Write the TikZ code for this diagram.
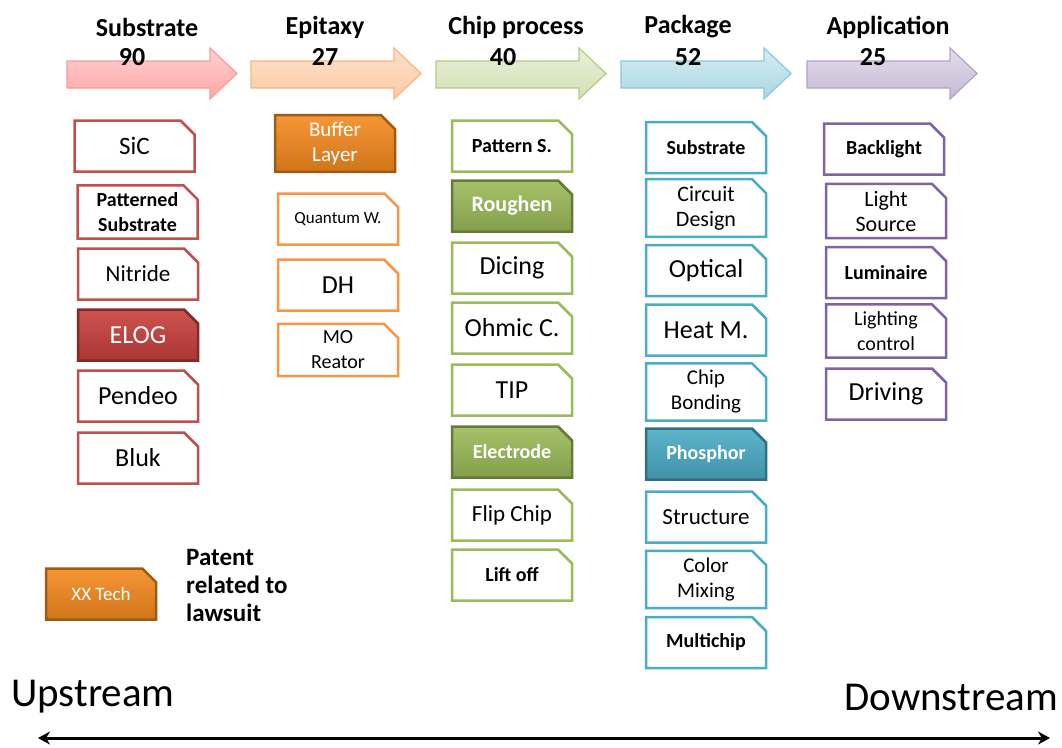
\documentclass[tikz,border=0pt]{standalone}
\usepackage{fontspec}
\setmainfont{Carlito}
\usetikzlibrary{shapes.misc,arrows.meta}

% column colours
\definecolor{subred}{HTML}{C0504D}
\definecolor{elogred}{HTML}{C8403D}
\definecolor{epiorange}{HTML}{F79646}
\definecolor{buforange}{HTML}{F58A1F}
\definecolor{chipgreen}{HTML}{9BBB59}
\definecolor{pkgblue}{HTML}{4BACC6}
\definecolor{apppurple}{HTML}{8064A2}

\begin{document}
\begin{tikzpicture}[x=1pt, y=-1pt,
  every node/.style={inner sep=0pt},
  txt/.style={font=\fontsize{#1}{25}\selectfont},
  btxt/.style={font=\fontsize{#1}{25}\selectfont\bfseries},
  title/.style={font=\fontsize{26}{28}\selectfont\bfseries},
  stagebox/.style={chamfered rectangle, chamfered rectangle corners=north east,
    chamfered rectangle xsep=7pt, chamfered rectangle ysep=7pt,
    minimum width=120pt, minimum height=51pt, line width=2.5pt,
    fill=white, align=center},
  subbox/.style={stagebox, draw=subred},
  epibox/.style={stagebox, draw=epiorange},
  chipbox/.style={stagebox, draw=chipgreen},
  pkgbox/.style={stagebox, draw=pkgblue},
  appbox/.style={stagebox, draw=apppurple},
  hotbox/.style={stagebox, text=white, draw=#1!65!black,
    top color=#1!90!white, bottom color=#1!85!black},
  stagearrow/.style={line width=1.2pt},
]
\useasboundingbox (0,0) rectangle (1062,747);

% Stage arrows
\shade[stagearrow, draw=red!40, top color=red!18, bottom color=red!35]
  (67,61) -- (210,61) -- (210,48) -- (237,73.5) -- (210,99) -- (210,88) -- (67,88) -- cycle;
\shade[stagearrow, draw=epiorange!70, top color=epiorange!28, bottom color=epiorange!50]
  (251,61) -- (394,61) -- (394,48) -- (421,73.5) -- (394,99) -- (394,88) -- (251,88) -- cycle;
\shade[stagearrow, draw=chipgreen!75, top color=chipgreen!22, bottom color=chipgreen!45]
  (436,61) -- (579,61) -- (579,48) -- (606,73.5) -- (579,99) -- (579,88) -- (436,88) -- cycle;
\shade[stagearrow, draw=pkgblue!65, top color=pkgblue!22, bottom color=pkgblue!48]
  (621,61) -- (764,61) -- (764,48) -- (791,73.5) -- (764,99) -- (764,88) -- (621,88) -- cycle;
\shade[stagearrow, draw=apppurple!60, top color=apppurple!22, bottom color=apppurple!45]
  (807,61) -- (950,61) -- (950,48) -- (977,73.5) -- (950,99) -- (950,88) -- (807,88) -- cycle;

% Stage titles and patent counts
\node[title] (tsub)  at (147,27) {Substrate};
\node[title] (tepi)  at (325,27) {Epitaxy};
\node[title] (tchip) at (516,27) {Chip process};
\node[title] (tpkg)  at (688,27) {Package};
\node[title] (tapp)  at (888,27) {Application};
\node[title] (nsub)  at (132,57) {90};
\node[title] (nepi)  at (325,57) {27};
\node[title] (nchip) at (503,57) {40};
\node[title] (npkg)  at (688,57) {52};
\node[title] (napp)  at (873,57) {25};

% Substrate
\node[subbox, txt=25]  (sic)   at (134.5,146) {SiC};
\node[subbox, btxt=20] (pss)   at (137.5,212) {Patterned\\Substrate};
\node[subbox, txt=23]  (nitr)  at (138,274) {Nitride};
\node[hotbox=elogred, txt=26] (elog) at (138,335) {ELOG};
\node[subbox, txt=26]  (pend)  at (138,396) {Pendeo};
\node[subbox, txt=26]  (bluk)  at (138,458) {Bluk};

% Epitaxy
\node[hotbox=buforange, txt=21] (buff) at (335,143.5) {Buffer\\Layer};
\node[epibox, txt=17]  (qw)    at (338,219) {Quantum W.};
\node[epibox, txt=26]  (dh)    at (338,285) {DH};
\node[epibox, txt=20]  (mo)    at (338,350) {MO\\Reator};

% Chip process
\node[chipbox, btxt=20] (pats) at (512,146) {Pattern S.};
\node[hotbox=chipgreen, btxt=22] (rough) at (512,206) {Roughen};
\node[chipbox, txt=26]  (dice) at (512,268) {Dicing};
\node[chipbox, txt=26]  (ohm)  at (512,328) {Ohmic C.};
\node[chipbox, txt=26]  (tip)  at (512,390) {TIP};
\node[hotbox=chipgreen, btxt=20] (elec) at (512,452) {Electrode};
\node[chipbox, txt=23]  (flip) at (512,515) {Flip Chip};
\node[chipbox, btxt=20] (lift) at (512,575) {Lift off};

% Package
\node[pkgbox, btxt=20] (psub)  at (706,147.5) {Substrate};
\node[pkgbox, txt=22]  (circ)  at (706,208) {Circuit\\Design};
\node[pkgbox, txt=26]  (opt)   at (706,270.5) {Optical};
\node[pkgbox, txt=26]  (heat)  at (706,330) {Heat M.};
\node[pkgbox, txt=21]  (bond)  at (706,392) {Chip\\Bonding};
\node[hotbox=pkgblue, btxt=20] (phos) at (706,454) {Phosphor};
\node[pkgbox, txt=23]  (struc) at (706,517) {Structure};
\node[pkgbox, txt=21]  (mix)   at (706,579.5) {Color\\Mixing};
\node[pkgbox, btxt=20] (multi) at (706,642.5) {Multichip};

% Application
\node[appbox, btxt=20] (back)  at (884,149) {Backlight};
\node[appbox, txt=22]  (lsrc)  at (886,211) {Light\\Source};
\node[appbox, btxt=20] (lumi)  at (886,272.5) {Luminaire};
\node[appbox, txt=20]  (lctl)  at (886,331) {Lighting\\control};
\node[appbox, txt=26]  (drv)   at (886,394) {Driving};

% Legend
\node[hotbox=buforange, txt=19, minimum width=110pt] (xx) at (101,594) {XX Tech};
\node[font=\fontsize{25}{28}\selectfont\bfseries, align=left, anchor=north west]
  (legtxt) at (186,549) {Patent\\related to\\lawsuit};

% Upstream / downstream axis
\node[font=\fontsize{41}{44}\selectfont, anchor=west] (up)   at (11,697) {Upstream};
\node[font=\fontsize{41}{44}\selectfont, anchor=east] (down) at (1058,697) {Downstream};
\coordinate (upend)   at (38,738);
\coordinate (downend) at (1050,738);
\draw[line width=3pt, {Stealth[length=12pt,width=13pt]}-{Stealth[length=12pt,width=13pt]}]
  (upend) -- (downend);

\end{tikzpicture}
\end{document}
